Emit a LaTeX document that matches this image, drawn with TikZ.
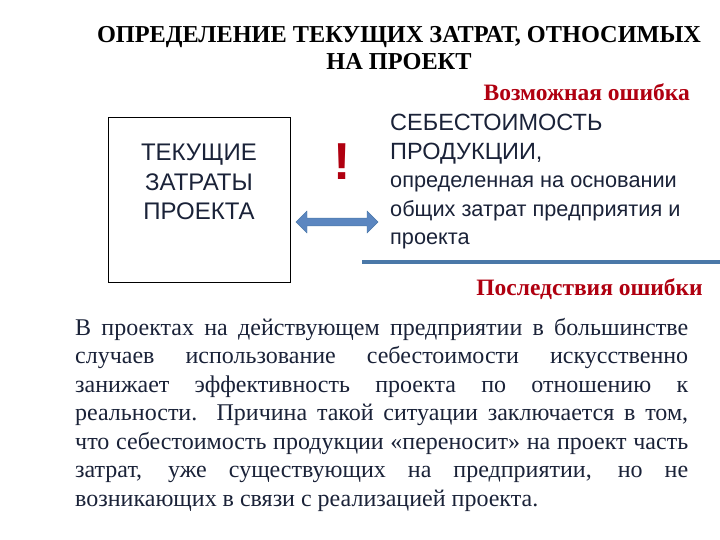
\documentclass[tikz,border=0pt]{standalone}
\usepackage{fontspec}
\setmainfont{Liberation Serif}
\newfontfamily\arialf{Liberation Sans}
\usetikzlibrary{shapes.arrows}
\definecolor{txt}{HTML}{1A2238}
\definecolor{errred}{HTML}{B00010}
\definecolor{barblue}{HTML}{4A78A8}
\definecolor{arrfill}{HTML}{5B86C0}
\tikzset{redlbl/.style={text=errred,font=\fontsize{23.5}{26}\selectfont\bfseries,inner sep=0pt}}
\begin{document}
\begin{tikzpicture}[x=1pt,y=-1pt]
\useasboundingbox (0,0) rectangle (720,540);
\node[font=\fontsize{24.3}{27}\selectfont\bfseries,align=center,text=black,inner sep=0pt] (title) at (399,48) {ОПРЕДЕЛЕНИЕ ТЕКУЩИХ ЗАТРАТ, ОТНОСИМЫХ\\НА ПРОЕКТ};
\node[redlbl,anchor=east] (err) at (690,92) {Возможная ошибка};
\node[draw=black,line width=0.8pt,minimum width=182pt,minimum height=165pt,inner sep=0pt] (box) at (199,199.5) {};
\node[font=\arialf\fontsize{24}{29.5}\selectfont,text=txt,align=center,inner sep=0pt] (boxtext) at (199,182) {ТЕКУЩИЕ\\ЗАТРАТЫ\\ПРОЕКТА};
\node[text=errred,font=\arialf\fontsize{52}{52}\selectfont\bfseries,inner sep=0pt] (excl) at (342,162) {!};
\node[double arrow, draw=barblue,fill=arrfill,minimum width=22pt,double arrow head extend=5pt,minimum height=82pt,inner sep=2.5pt] (arr) at (337,222) {};
\node[anchor=north west,font=\arialf\fontsize{23.5}{28.5}\selectfont,text=txt,align=left,inner sep=0pt] (right) at (390,114) {СЕБЕСТОИМОСТЬ\\ПРОДУКЦИИ,\\{\fontsize{21.7}{28.5}\selectfont определенная на основании}\\{\fontsize{21.7}{28.5}\selectfont общих затрат предприятия и}\\{\fontsize{21.7}{28.5}\selectfont проекта}};
\coordinate (b1) at (362,262); \coordinate (b2) at (720,262);
\draw[barblue,line width=4pt] (b1) -- (b2);
\node[redlbl,anchor=east] (cons) at (703,289) {Последствия ошибки};
\node[anchor=north west,inner sep=0pt,text width=613pt,align=justify,font=\fontsize{24}{28.5}\selectfont,text=txt] (para) at (75,318) {В проектах на действующем предприятии в большинстве\linebreak случаев использование себестоимости искусственно\linebreak занижает эффективность проекта по отношению к\linebreak реальности. Причина такой ситуации заключается в том,\linebreak что себестоимость продукции «переносит» на проект часть\linebreak затрат, уже существующих на предприятии, но не\linebreak возникающих в связи с реализацией проекта.};
\end{tikzpicture}
\end{document}
